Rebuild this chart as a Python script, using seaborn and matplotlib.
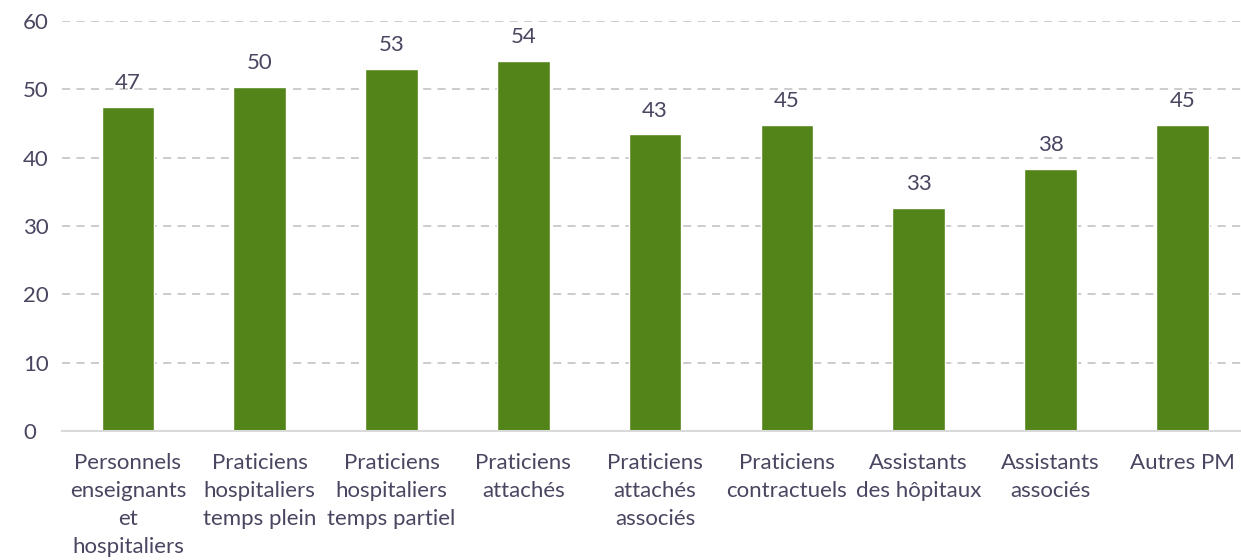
import matplotlib
matplotlib.use("Agg")
import matplotlib.pyplot as plt
import seaborn as sns
import pandas as pd

categories = [
    "Personnels\nenseignants\net\nhospitaliers",
    "Praticiens\nhospitaliers\ntemps plein",
    "Praticiens\nhospitaliers\ntemps partiel",
    "Praticiens\nattachés",
    "Praticiens\nattachés\nassociés",
    "Praticiens\ncontractuels",
    "Assistants\ndes hôpitaux",
    "Assistants\nassociés",
    "Autres PM",
]
values = [47.4, 50.3, 53.0, 54.1, 43.4, 44.8, 32.6, 38.4, 44.8]
yticks = [0, 10, 20, 30, 40, 50, 60]

TEXT = "#4a4560"
BAR = "#538419"

sns.set_theme(style="white")
plt.rcParams["font.family"] = ["Lato", "DejaVu Sans"]

df = pd.DataFrame({"cat": categories, "val": values})

fig = plt.figure(figsize=(12.41, 5.6), dpi=100)
ax = fig.add_axes([62 / 1241, 1 - 431 / 560, (1241 - 62) / 1241, (431 - 21) / 560])

sns.barplot(data=df, x="cat", y="val", color=BAR, width=0.40, saturation=1, ax=ax)

ax.set_ylim(0, 60)
ax.set_xlim(-0.5, (1241 - 62) / 131.8 - 0.5)
ax.set_yticks(yticks)
ax.set_yticklabels([str(t) for t in yticks])
ax.set_xlabel("")
ax.set_ylabel("")

for t in yticks[1:]:
    ax.axhline(t, color="#c8c8c8", lw=1.3, ls=(0, (4.5, 3.5)), zorder=0)

for s in ["top", "right", "left"]:
    ax.spines[s].set_visible(False)
ax.spines["bottom"].set_color("#d9d9d9")
ax.spines["bottom"].set_linewidth(1.5)

ax.tick_params(axis="both", length=0, colors=TEXT, labelsize=16)
ax.tick_params(axis="x", pad=16)
ax.tick_params(axis="y", pad=28)
for lab in ax.get_yticklabels():
    lab.set_horizontalalignment("left")
    lab.set_color(TEXT)
for lab in ax.get_xticklabels():
    lab.set_linespacing(1.5)
    lab.set_color(TEXT)

ax.bar_label(ax.containers[0], labels=[f"{v:.0f}" for v in values],
             padding=10, color=TEXT, fontsize=16)

fig.savefig("out.png", dpi=100)
